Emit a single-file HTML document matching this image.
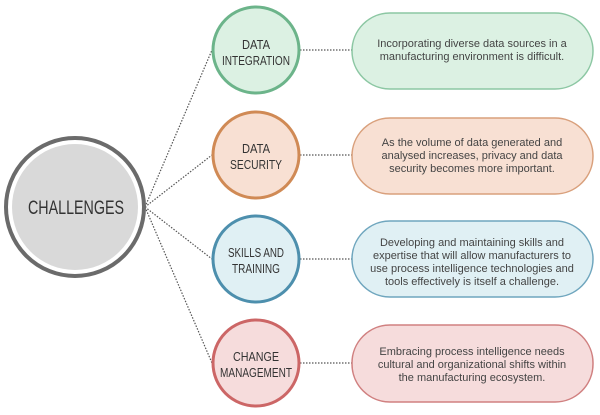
<!DOCTYPE html>
<html><head><meta charset="utf-8"><style>
body{margin:0;width:600px;height:410px;background:#fff;overflow:hidden}
svg text{font-family:"Liberation Sans",sans-serif}
</style></head><body>
<svg width="600" height="410" xmlns="http://www.w3.org/2000/svg">
<g stroke="#555" stroke-width="1.2" stroke-dasharray="1.5,1.5" fill="none">
<line x1="145" y1="207" x2="212" y2="50"/>
<line x1="145" y1="207" x2="212" y2="155"/>
<line x1="145" y1="207" x2="212" y2="259"/>
<line x1="145" y1="207" x2="212" y2="363"/>
<line x1="300" y1="50" x2="352" y2="50"/>
<line x1="300" y1="155" x2="352" y2="155"/>
<line x1="300" y1="259" x2="352" y2="259"/>
<line x1="300" y1="363" x2="352" y2="363"/>
</g>
<circle cx="75" cy="207" r="69" fill="#fff" stroke="#6b6b6b" stroke-width="4"/>
<circle cx="75" cy="207" r="63" fill="#d9d9d9"/>
<text x="76" y="214" font-size="19" text-anchor="middle" fill="#333" textLength="96" lengthAdjust="spacingAndGlyphs">CHALLENGES</text>

<circle cx="256" cy="50" r="43" fill="#dcf1e3" stroke="#6cb48a" stroke-width="3"/>
<circle cx="256" cy="155" r="43" fill="#f8e0d3" stroke="#d08a55" stroke-width="3"/>
<circle cx="256" cy="259" r="43" fill="#e0f0f4" stroke="#4d8fad" stroke-width="3"/>
<circle cx="256" cy="363" r="43" fill="#f6dcdc" stroke="#cc6666" stroke-width="3"/>
<g font-size="13" text-anchor="middle" fill="#333" lengthAdjust="spacingAndGlyphs">
<text x="256" y="49" textLength="28" lengthAdjust="spacingAndGlyphs">DATA</text><text x="256" y="65" textLength="68" lengthAdjust="spacingAndGlyphs">INTEGRATION</text>
<text x="256" y="153" textLength="28" lengthAdjust="spacingAndGlyphs">DATA</text><text x="256" y="169" textLength="52" lengthAdjust="spacingAndGlyphs">SECURITY</text>
<text x="256" y="257" textLength="56" lengthAdjust="spacingAndGlyphs">SKILLS AND</text><text x="256" y="273" textLength="48" lengthAdjust="spacingAndGlyphs">TRAINING</text>
<text x="256" y="361" textLength="46" lengthAdjust="spacingAndGlyphs">CHANGE</text><text x="256" y="377" textLength="72" lengthAdjust="spacingAndGlyphs">MANAGEMENT</text>
</g>

<rect x="352" y="13" width="241" height="76" rx="38" fill="#dcf1e3" stroke="#8cc7a3" stroke-width="1.5"/>
<rect x="352" y="118" width="241" height="76" rx="38" fill="#f8e0d3" stroke="#d9a07c" stroke-width="1.5"/>
<rect x="352" y="221" width="241" height="76" rx="38" fill="#e0f0f4" stroke="#6fa6be" stroke-width="1.5"/>
<rect x="352" y="325" width="241" height="77" rx="38" fill="#f6dcdc" stroke="#d08080" stroke-width="1.5"/>
<g font-size="11" text-anchor="middle" fill="#444">
<text x="472" y="47">Incorporating diverse data sources in a</text>
<text x="472" y="60">manufacturing environment is difficult.</text>
<text x="472" y="146">As the volume of data generated and</text>
<text x="472" y="159">analysed increases, privacy and data</text>
<text x="472" y="172">security becomes more important.</text>
<text x="472" y="246">Developing and maintaining skills and</text>
<text x="472" y="259">expertise that will allow manufacturers to</text>
<text x="472" y="272">use process intelligence technologies and</text>
<text x="472" y="285">tools effectively is itself a challenge.</text>
<text x="472" y="355">Embracing process intelligence needs</text>
<text x="472" y="368">cultural and organizational shifts within</text>
<text x="472" y="381">the manufacturing ecosystem.</text>
</g>
</svg>
</body></html>
